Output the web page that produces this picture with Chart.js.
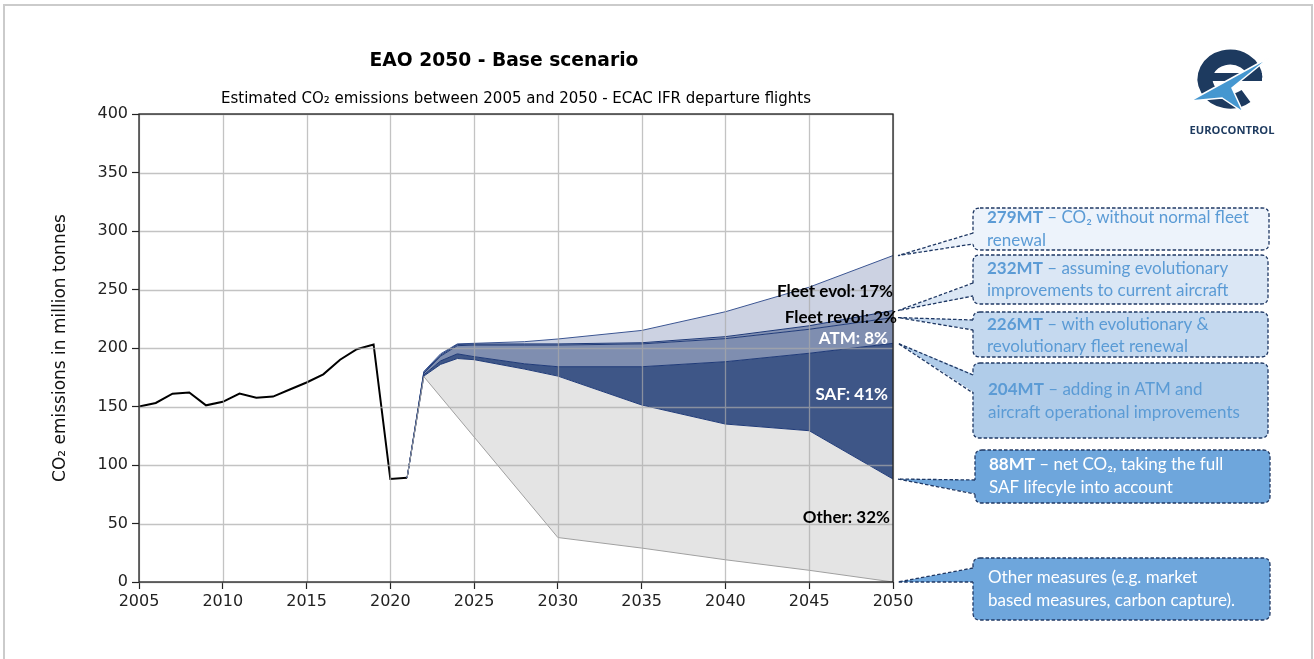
<!DOCTYPE html>
<html>
<head>
<meta charset="utf-8">
<title>EAO 2050 - Base scenario</title>
<script src="https://cdn.jsdelivr.net/npm/chart.js@4.4.1/dist/chart.umd.min.js"></script>
<style>
    html, body { margin: 0; padding: 0; background: #fff; }
    #wrap { position: relative; width: 1314px; height: 659px; overflow: hidden; }
    #frame { position: absolute; left: 3px; top: 4px; width: 1306px; height: 700px; border: 2px solid #cbcbcb; }
    #chart { position: absolute; left: 0; top: 0; }
    #logo { position: absolute; left: 1180px; top: 40px; }
</style>
</head>
<body>
<div id="wrap">
    <div id="frame"></div>
    <canvas id="chart" width="1314" height="659"></canvas>
    <svg id="logo" width="110" height="100" viewBox="0 0 110 100">
        <path d="M75 38 A25 22 0 1 0 66 56" fill="none" stroke="#1d3a5f" stroke-width="15"/>
        <line x1="27" y1="37" x2="82" y2="37" stroke="#1d3a5f" stroke-width="8"/>
        <polygon points="10,61 90,17 52,48 63,72 42,58" fill="#4597d0" stroke="#fff" stroke-width="1.5"/>
        <text x="52" y="94" text-anchor="middle" font-family="Open Sans" font-weight="bold" font-size="11" fill="#1d3a5f" textLength="85" lengthAdjust="spacingAndGlyphs">EUROCONTROL</text>
    </svg>
</div>
<script>
// Historical emissions (million tonnes CO2)
const histYears = [2005, 2006, 2007, 2008, 2009, 2010, 2011, 2012, 2013, 2014, 2015, 2016, 2017, 2018, 2019, 2020, 2021];
const histEmissions = [150, 153, 161, 162, 151, 154, 161, 157.5, 158.5, 164.5, 170.5, 177.5, 190, 199, 203, 88, 89];

// Forecast scenario lines
const forecastYears = [2021, 2022, 2023, 2024, 2025, 2028, 2030, 2035, 2040, 2045, 2050];
const noFleetRenewal = [89, 180, 195, 203.5, 204, 205.4, 207.7, 215, 231, 252, 279];
const fleetEvol = [89, 179, 194, 203, 203.4, 203.5, 203.5, 204.5, 209.7, 219, 232];
const fleetRevol = [89, 178.5, 193, 202, 202.5, 202.5, 202.5, 203.5, 208, 216, 226];
const withATM = [89, 177, 189, 195, 192.6, 186.5, 184, 184, 188.3, 195.5, 204];
const withSAF = [89, 176, 186, 191, 190, 182, 176, 151.3, 135, 129.3, 88];
const otherYears = [2021, 2022, 2030, 2035, 2040, 2045, 2050];
const withOther = [89, 175.5, 38, 29, 19, 10, 0];

// Axis ticks
const xTickValues = [2005, 2010, 2015, 2020, 2025, 2030, 2035, 2040, 2045, 2050];
const yTickValues = [0, 50, 100, 150, 200, 250, 300, 350, 400];

// Share labels inside the plot (text + value where they sit)
const shareLabels = ['Fleet evol: 17%', 'Fleet revol: 2%', 'ATM: 8%', 'SAF: 41%', 'Other: 32%'];
const shareLabelAt = [248, 226, 208, 160, 55];

// Callout texts
const calloutBold = ['279MT', '232MT', '226MT', '204MT', '88MT', ''];
const calloutLines = [
    [' – CO₂ without normal fleet', 'renewal'],
    [' – assuming evolutionary', 'improvements to current aircraft'],
    [' – with evolutionary &', 'revolutionary fleet renewal'],
    [' – adding in ATM and', 'aircraft operational improvements'],
    [' – net CO₂, taking the full', 'SAF lifecyle into account'],
    ['Other measures (e.g. market', 'based measures, carbon capture).']
];
const calloutSeries = [noFleetRenewal, fleetEvol, fleetRevol, withATM, withSAF, withOther];

function pts(xs, ys) {
    return xs.map((x, i) => ({ x: x, y: ys[i] }));
}

// styles for labels and callouts
const shareStyle = [
    { dx: 0, color: '#000' },
    { dx: 4, color: '#000' },
    { dx: -5, color: '#fff' },
    { dx: -5, color: '#fff' },
    { dx: -3, color: '#000' }
];
const calloutStyle = [
    { box: [973, 208, 296, 42], tail: [233, 244], fill: '#edf3fb', color: '#5b9bd5', lines: [218, 241], tx: 14 },
    { box: [973, 255, 295, 49], tail: [283, 296], fill: '#dbe7f5', color: '#5b9bd5', lines: [269, 291], tx: 14 },
    { box: [973, 312, 295, 45], tail: [320, 330], fill: '#c5d9ef', color: '#5b9bd5', lines: [325, 347], tx: 14 },
    { box: [973, 363, 295, 75], tail: [375, 393], fill: '#b0cce9', color: '#5b9bd5', lines: [390, 413], tx: 15 },
    { box: [975, 450, 295, 53], tail: [480, 494], fill: '#6ea6dc', color: '#fff', lines: [465, 488], tx: 14 },
    { box: [973, 558, 297, 62], tail: [568, 582], fill: '#6ea6dc', color: '#fff', lines: [578, 601], tx: 15 }
];

function roundRect(ctx, x, y, w, h, r) {
    ctx.beginPath();
    ctx.moveTo(x + r, y);
    ctx.lineTo(x + w - r, y);
    ctx.quadraticCurveTo(x + w, y, x + w, y + r);
    ctx.lineTo(x + w, y + h - r);
    ctx.quadraticCurveTo(x + w, y + h, x + w - r, y + h);
    ctx.lineTo(x + r, y + h);
    ctx.quadraticCurveTo(x, y + h, x, y + h - r);
    ctx.lineTo(x, y + r);
    ctx.quadraticCurveTo(x, y, x + r, y);
    ctx.closePath();
}

// grid drawn over the filled areas, like the original
const gridOnTop = {
    id: 'gridOnTop',
    afterDatasetsDraw(chart) {
        const ctx = chart.ctx;
        const area = chart.chartArea;
        const xs = chart.scales.x;
        const ys = chart.scales.y;
        ctx.save();
        ctx.strokeStyle = 'rgba(170,170,170,0.7)';
        ctx.lineWidth = 1.3;
        ctx.beginPath();
        xTickValues.forEach(v => {
            const px = Math.round(xs.getPixelForValue(v)) + 0.5;
            ctx.moveTo(px, area.top);
            ctx.lineTo(px, area.bottom);
        });
        yTickValues.forEach(v => {
            const py = Math.round(ys.getPixelForValue(v)) + 0.5;
            ctx.moveTo(area.left, py);
            ctx.lineTo(area.right, py);
        });
        ctx.stroke();
        ctx.restore();
    }
};

const decorPlugin = {
    id: 'decor',
    afterDraw(chart) {
        const ctx = chart.ctx;
        const area = chart.chartArea;
        const xs = chart.scales.x;
        const ys = chart.scales.y;
        const midX = (area.left + area.right) / 2;

        ctx.save();
        // titles
        ctx.fillStyle = '#000';
        ctx.textAlign = 'center';
        ctx.textBaseline = 'middle';
        ctx.font = 'bold 18.7px "DejaVu Sans"';
        ctx.fillText('EAO 2050 - Base scenario', midX - 12, 61);
        ctx.font = '15px "DejaVu Sans"';
        ctx.fillText('Estimated CO₂ emissions between 2005 and 2050 - ECAC IFR departure flights', midX, 99);

        // frame
        ctx.strokeStyle = '#222';
        ctx.lineWidth = 1.3;
        ctx.strokeRect(area.left, area.top, area.right - area.left, area.bottom - area.top);

        // share labels
        const xEnd = xs.getPixelForValue(2050);
        ctx.textAlign = 'right';
        ctx.font = 'bold 17px Lato';
        shareLabels.forEach((t, i) => {
            ctx.fillStyle = shareStyle[i].color;
            ctx.fillText(t, xEnd + shareStyle[i].dx, ys.getPixelForValue(shareLabelAt[i]));
        });

        // callouts
        calloutStyle.forEach((s, i) => {
            const series = calloutSeries[i];
            const tipX = xEnd + 5;
            const tipY = ys.getPixelForValue(series[series.length - 1]);
            const [bx, by, bw, bh] = s.box;
            ctx.lineWidth = 1.3;
            ctx.strokeStyle = '#1f3864';
            ctx.setLineDash([3.5, 2]);
            ctx.fillStyle = s.fill;
            roundRect(ctx, bx, by, bw, bh, 7);
            ctx.fill();
            ctx.stroke();
            ctx.beginPath();
            ctx.moveTo(tipX, tipY);
            ctx.lineTo(bx + 2, s.tail[0]);
            ctx.lineTo(bx + 2, s.tail[1]);
            ctx.closePath();
            ctx.fill();
            ctx.beginPath();
            ctx.moveTo(bx, s.tail[0]);
            ctx.lineTo(tipX, tipY);
            ctx.lineTo(bx, s.tail[1]);
            ctx.stroke();
            ctx.setLineDash([]);

            ctx.fillStyle = s.color;
            ctx.textAlign = 'left';
            calloutLines[i].forEach((line, j) => {
                let cx = bx + s.tx;
                if (j === 0 && calloutBold[i]) {
                    ctx.font = 'bold 17px Lato';
                    ctx.fillText(calloutBold[i], cx, s.lines[j]);
                    cx += ctx.measureText(calloutBold[i]).width;
                }
                ctx.font = '17px Lato';
                ctx.fillText(line, cx, s.lines[j]);
            });
        });
        ctx.restore();
    }
};

const navy = '#1f3a78';
const gridStyle = { drawOnChartArea: false, tickColor: '#222', tickLength: 7, tickWidth: 1.2 };

new Chart(document.getElementById('chart'), {
    type: 'line',
    data: {
        datasets: [
            { data: pts(otherYears, withOther), borderColor: '#a0a0a0', borderWidth: 1, fill: false },
            { data: pts(forecastYears, withSAF), borderColor: navy, borderWidth: 1, fill: { target: '-1' }, backgroundColor: '#e4e4e4' },
            { data: pts(forecastYears, withATM), borderColor: navy, borderWidth: 1, fill: { target: '-1' }, backgroundColor: '#3e5687' },
            { data: pts(forecastYears, fleetRevol), borderColor: navy, borderWidth: 1, fill: { target: '-1' }, backgroundColor: '#7f8eb0' },
            { data: pts(forecastYears, fleetEvol), borderColor: navy, borderWidth: 1, fill: { target: '-1' }, backgroundColor: '#8593b4' },
            { data: pts(forecastYears, noFleetRenewal), borderColor: '#3b5592', borderWidth: 1, fill: { target: '-1' }, backgroundColor: '#ccd2e2' },
            { data: pts(histYears, histEmissions), borderColor: '#000', borderWidth: 2, fill: false }
        ]
    },
    options: {
        responsive: false,
        animation: false,
        elements: { point: { radius: 0 }, line: { tension: 0 } },
        layout: { padding: { top: 114, left: 0, right: 421, bottom: 0 } },
        plugins: {
            legend: { display: false },
            tooltip: { enabled: false },
            title: { display: false }
        },
        scales: {
            x: {
                type: 'linear',
                min: 2005,
                max: 2050,
                afterBuildTicks: s => { s.ticks = xTickValues.map(v => ({ value: v })); },
                afterFit: s => { s.height = 77; },
                ticks: {
                    callback: v => String(v),
                    font: { family: 'DejaVu Sans', size: 16 },
                    color: '#222',
                    padding: 3,
                    maxRotation: 0
                },
                grid: gridStyle,
                border: { display: false }
            },
            y: {
                min: 0,
                max: 400,
                afterBuildTicks: s => { s.ticks = yTickValues.map(v => ({ value: v })); },
                afterFit: s => { s.width = 139; },
                ticks: {
                    font: { family: 'DejaVu Sans', size: 16 },
                    color: '#222',
                    padding: 4
                },
                grid: gridStyle,
                border: { display: false },
                title: {
                    display: true,
                    text: 'CO₂ emissions in million tonnes',
                    font: { family: 'DejaVu Sans', size: 17 },
                    color: '#111',
                    padding: { top: 50, bottom: 0 }
                }
            }
        }
    },
    plugins: [gridOnTop, decorPlugin]
});
</script>
</body>
</html>
